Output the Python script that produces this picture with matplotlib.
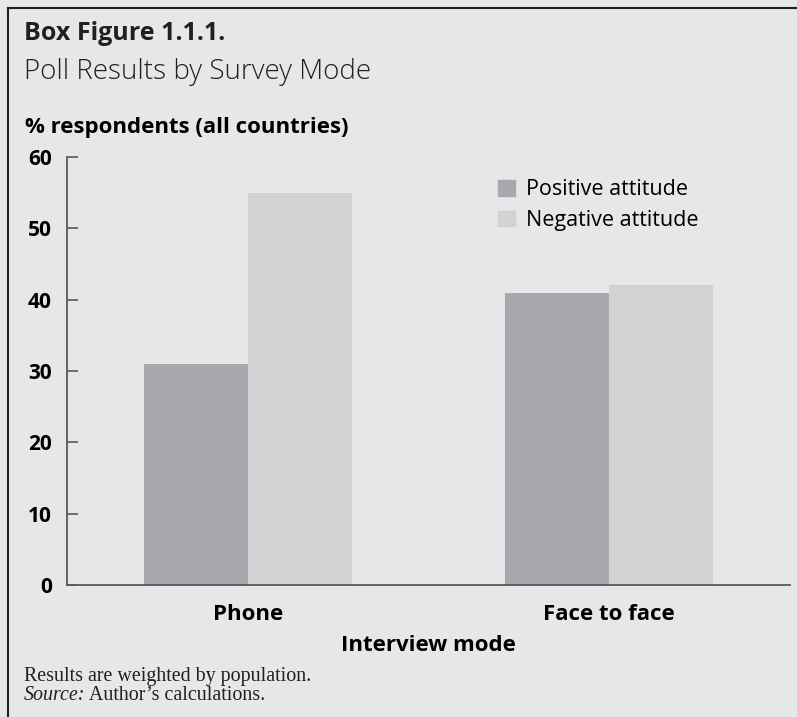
import matplotlib.pyplot as plt
from matplotlib.patches import Patch
import numpy as np

# === DATA ===
modes = ['Phone', 'Face to face']
positive = [31, 41]
negative = [55, 42]
yticks = [0, 10, 20, 30, 40, 50, 60]

bg = '#e6e7e8'
c_pos = '#a7a8ab'
c_neg = '#d1d2d4'
ink = '#231f20'
sans = ['Open Sans', 'DejaVu Sans']
serif = ['Liberation Serif', 'DejaVu Serif']

fig = plt.figure(figsize=(7.97, 7.17), dpi=100, facecolor=bg)
ax = fig.add_axes([67/797, 1 - 585/717, 723/797, 428/717])
ax.set_facecolor(bg)

# === BARS ===
x = np.arange(len(modes))
w = 0.288
ax.bar(x - w/2, positive, width=w, color=c_pos)
ax.bar(x + w/2, negative, width=w, color=c_neg)

ax.set_xlim(-0.5, 1.5)
ax.set_ylim(0, 60)
ax.set_yticks(yticks)
ax.set_yticklabels([str(t) for t in yticks], fontfamily=sans, fontweight='bold', fontsize=15)
ax.set_xticks(x)
ax.set_xticklabels(modes, fontfamily=sans, fontweight='bold', fontsize=16)
ax.tick_params(axis='y', direction='in', length=7.7, width=1.2, color='#58595b', pad=11, labelcolor='black')
ax.tick_params(axis='x', length=0, pad=14)
for s in ['top', 'right']:
    ax.spines[s].set_visible(False)
for s in ['left', 'bottom']:
    ax.spines[s].set_color('#58595b')
    ax.spines[s].set_linewidth(1.3)
ax.set_xlabel('Interview mode', fontfamily=sans, fontweight='bold', fontsize=16, labelpad=7)

# === LEGEND ===
handles = [Patch(color=c_pos), Patch(color=c_neg)]
ax.legend(handles, ['Positive attitude', 'Negative attitude'], frameon=False,
          loc='upper left', bbox_to_anchor=(479/797, 1 - 160/717), bbox_transform=fig.transFigure,
          prop={'family': sans, 'size': 15.5}, handlelength=0.75, handleheight=0.75,
          handletextpad=0.55, labelspacing=0.45)

# === TITLES AND NOTES ===
fig.text(24/797, 1 - 34/717, 'Box Figure 1.1.1.', fontfamily=sans, fontweight='bold',
         fontsize=18, va='center', color=ink)
fig.text(24/797, 1 - 72/717, 'Poll Results by Survey Mode', fontfamily=sans, fontweight='light',
         fontsize=20, va='center', color=ink)
fig.text(25/797, 1 - 128/717, '% respondents (all countries)', fontfamily=sans, fontweight='bold',
         fontsize=16, va='center', color='black')
fig.text(24/797, 1 - 677/717, 'Results are weighted by population.', fontfamily=serif,
         fontsize=14.4, va='center', color=ink)
src = fig.text(24/797, 1 - 695/717, 'Source:', fontfamily=serif, fontstyle='italic',
               fontsize=14.4, va='center', color=ink)
fig.add_artist(plt.Annotation(' Author’s calculations.', xy=(1, 0), xycoords=src,
                              va='bottom', ha='left', fontfamily=serif,
                              fontsize=14.4, color=ink))

# === BOX FRAME ===
fig.add_artist(plt.Line2D([8/797, 8/797], [0, 1 - 8/717], color=ink, lw=1.5))
fig.add_artist(plt.Line2D([8/797, 1], [1 - 8/717, 1 - 8/717], color=ink, lw=1.5))

fig.savefig('out.png', dpi=100, facecolor=bg)
